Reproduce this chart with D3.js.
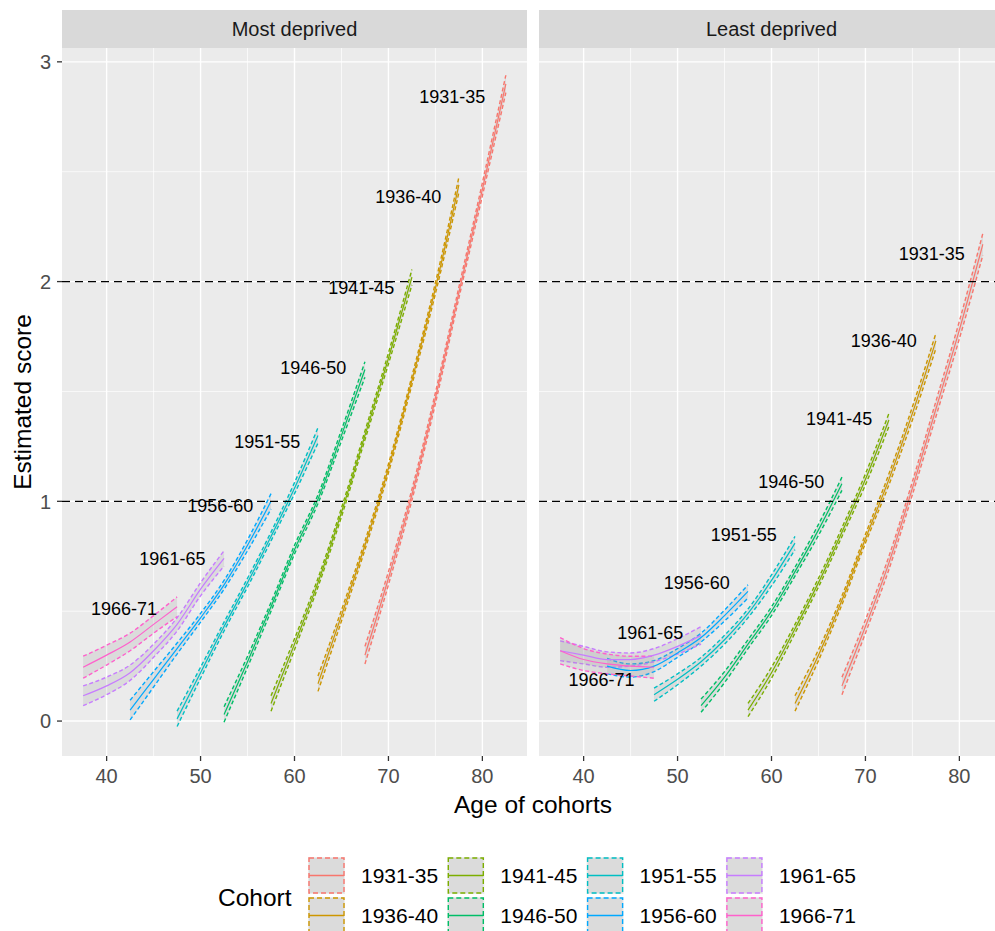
<!DOCTYPE html>
<html>
<head>
<meta charset="utf-8">
<script src="https://cdn.jsdelivr.net/npm/d3@7"></script>
<style>
  html, body { margin: 0; padding: 0; background: #ffffff; }
  svg { display: block; font-family: "Liberation Sans", Arial, sans-serif; }
</style>
</head>
<body>
<svg id="chart" width="995" height="931"></svg>
<script>
// ---------------- data ----------------
const panels = ["Most deprived", "Least deprived"];
const cohorts = ["1931-35", "1936-40", "1941-45", "1946-50", "1951-55", "1956-60", "1961-65", "1966-71"];
const colors = ["#F8766D", "#CD9600", "#7CAE00", "#00BE67", "#00BFC4", "#00A9FF", "#C77CFF", "#FF61CC"];

const ages = [
  [67.5, 70, 72.5, 75, 77.5, 80, 82.5],
  [62.5, 65, 67.5, 70, 72.5, 75, 77.5],
  [57.5, 60, 62.5, 65, 67.5, 70, 72.5],
  [52.5, 55, 57.5, 60, 62.5, 65, 67.5],
  [47.5, 50, 52.5, 55, 57.5, 60, 62.5],
  [42.5, 45, 47.5, 50, 52.5, 55, 57.5],
  [37.5, 40, 42.5, 45, 47.5, 50, 52.5],
  [37.5, 40, 42.5, 45, 47.5]
];

// Most deprived: estimates and CI half-widths
const mostEst = [
  [0.30, 0.65, 1.03, 1.47, 1.95, 2.42, 2.90],
  [0.17, 0.48, 0.80, 1.15, 1.55, 1.97, 2.44],
  [0.08, 0.35, 0.63, 0.95, 1.30, 1.65, 2.02],
  [0.03, 0.27, 0.52, 0.78, 1.01, 1.30, 1.60],
  [0.01, 0.22, 0.43, 0.63, 0.84, 1.06, 1.30],
  [0.05, 0.19, 0.33, 0.47, 0.62, 0.80, 1.00],
  [0.115, 0.16, 0.22, 0.32, 0.44, 0.60, 0.74],
  [0.245, 0.30, 0.36, 0.44, 0.52]
];
const mostCI = [
  [0.04, 0.03, 0.025, 0.025, 0.025, 0.03, 0.04],
  [0.035, 0.025, 0.02, 0.02, 0.02, 0.025, 0.035],
  [0.035, 0.025, 0.02, 0.02, 0.02, 0.025, 0.035],
  [0.035, 0.025, 0.02, 0.02, 0.02, 0.025, 0.035],
  [0.035, 0.025, 0.02, 0.02, 0.02, 0.025, 0.035],
  [0.045, 0.035, 0.025, 0.02, 0.02, 0.025, 0.035],
  [0.045, 0.04, 0.035, 0.03, 0.03, 0.03, 0.035],
  [0.05, 0.045, 0.04, 0.04, 0.045]
];

// Least deprived: estimates and CI half-widths
const leastEst = [
  [0.16, 0.43, 0.72, 1.06, 1.42, 1.78, 2.17],
  [0.08, 0.30, 0.55, 0.83, 1.10, 1.40, 1.73],
  [0.05, 0.22, 0.42, 0.63, 0.86, 1.10, 1.37],
  [0.07, 0.20, 0.35, 0.50, 0.68, 0.87, 1.08],
  [0.12, 0.19, 0.27, 0.37, 0.49, 0.64, 0.81],
  [0.25, 0.23, 0.25, 0.31, 0.38, 0.48, 0.59],
  [0.32, 0.30, 0.28, 0.28, 0.30, 0.34, 0.39],
  [0.32, 0.28, 0.26, 0.25, 0.245]
];
const leastCI = [
  [0.04, 0.03, 0.03, 0.03, 0.035, 0.04, 0.05],
  [0.035, 0.025, 0.02, 0.02, 0.025, 0.03, 0.035],
  [0.03, 0.025, 0.02, 0.02, 0.02, 0.025, 0.03],
  [0.03, 0.025, 0.02, 0.02, 0.02, 0.025, 0.03],
  [0.03, 0.025, 0.02, 0.02, 0.02, 0.025, 0.03],
  [0.035, 0.03, 0.025, 0.02, 0.02, 0.025, 0.03],
  [0.045, 0.04, 0.035, 0.03, 0.03, 0.035, 0.04],
  [0.06, 0.05, 0.045, 0.045, 0.05]
];

// text labels (age, score)
const mostLabelX = [76.8, 72.1, 67.1, 62.0, 57.1, 52.1, 47.0, 41.85];
const mostLabelY = [2.84, 2.385, 1.975, 1.61, 1.27, 0.98, 0.74, 0.51];
const leastLabelX = [77.05, 71.95, 67.2, 62.1, 57.05, 52.05, 47.1, 41.9];
const leastLabelY = [2.126, 1.73, 1.375, 1.09, 0.85, 0.63, 0.405, 0.187];

const xTicks = [40, 50, 60, 70, 80];
const xMinor = [35, 45, 55, 65, 75, 85];
const yTicks = [0, 1, 2, 3];
const yMinor = [0.5, 1.5, 2.5];
const refLines = [1, 2];

// ---------------- layout ----------------
const svg = d3.select("#chart");
const panelTop = 48, panelBottom = 756, stripTop = 10;
const panelLefts = [62, 539];
const panelW = 465;

const y = d3.scaleLinear().domain([-0.159, 3.063]).range([panelBottom, panelTop]);

const panelData = [
  { est: mostEst, ci: mostCI, lx: mostLabelX, ly: mostLabelY },
  { est: leastEst, ci: leastCI, lx: leastLabelX, ly: leastLabelY }
];

const defs = svg.append("defs");

panels.forEach((pname, pi) => {
  const x0 = panelLefts[pi];
  const x = d3.scaleLinear().domain([35.25, 84.75]).range([x0, x0 + panelW]);
  const g = svg.append("g");

  // strip
  g.append("rect").attr("x", x0).attr("y", stripTop).attr("width", panelW)
    .attr("height", panelTop - stripTop).attr("fill", "#D9D9D9");
  g.append("text").attr("x", x0 + panelW / 2).attr("y", (stripTop + panelTop) / 2)
    .attr("dy", "0.35em").attr("text-anchor", "middle")
    .attr("font-size", 20).attr("fill", "#1A1A1A").text(pname);

  // panel bg
  g.append("rect").attr("x", x0).attr("y", panelTop).attr("width", panelW)
    .attr("height", panelBottom - panelTop).attr("fill", "#EBEBEB");

  const clipId = "clip" + pi;
  defs.append("clipPath").attr("id", clipId).append("rect")
    .attr("x", x0).attr("y", panelTop).attr("width", panelW).attr("height", panelBottom - panelTop);
  const pg = g.append("g").attr("clip-path", `url(#${clipId})`);

  // grid
  pg.selectAll(".xminor").data(xMinor).join("line")
    .attr("x1", d => x(d)).attr("x2", d => x(d)).attr("y1", panelTop).attr("y2", panelBottom)
    .attr("stroke", "#fff").attr("stroke-width", 0.7);
  pg.selectAll(".yminor").data(yMinor).join("line")
    .attr("x1", x0).attr("x2", x0 + panelW).attr("y1", d => y(d)).attr("y2", d => y(d))
    .attr("stroke", "#fff").attr("stroke-width", 0.7);
  pg.selectAll(".xmajor").data(xTicks).join("line")
    .attr("x1", d => x(d)).attr("x2", d => x(d)).attr("y1", panelTop).attr("y2", panelBottom)
    .attr("stroke", "#fff").attr("stroke-width", 1.4);
  pg.selectAll(".ymajor").data(yTicks).join("line")
    .attr("x1", x0).attr("x2", x0 + panelW).attr("y1", d => y(d)).attr("y2", d => y(d))
    .attr("stroke", "#fff").attr("stroke-width", 1.4);

  const pd = panelData[pi];
  const series = cohorts.map((c, ci) => ages[ci].map((a, k) => ({
    age: a, est: pd.est[ci][k], lo: pd.est[ci][k] - pd.ci[ci][k], hi: pd.est[ci][k] + pd.ci[ci][k]
  })));

  const area = d3.area().x(d => x(d.age)).y0(d => y(d.lo)).y1(d => y(d.hi)).curve(d3.curveMonotoneX);
  const loLine = d3.line().x(d => x(d.age)).y(d => y(d.lo)).curve(d3.curveMonotoneX);
  const hiLine = d3.line().x(d => x(d.age)).y(d => y(d.hi)).curve(d3.curveMonotoneX);
  const midLine = d3.line().x(d => x(d.age)).y(d => y(d.est)).curve(d3.curveMonotoneX);

  // ribbons with dashed outlines
  series.forEach((s, ci) => {
    pg.append("path").attr("d", area(s)).attr("fill", "#999").attr("fill-opacity", 0.2);
    pg.append("path").attr("d", loLine(s)).attr("fill", "none").attr("stroke", colors[ci])
      .attr("stroke-width", 1.4).attr("stroke-dasharray", "4,2.5");
    pg.append("path").attr("d", hiLine(s)).attr("fill", "none").attr("stroke", colors[ci])
      .attr("stroke-width", 1.4).attr("stroke-dasharray", "4,2.5");
  });
  series.forEach((s, ci) => {
    pg.append("path").attr("d", midLine(s)).attr("fill", "none").attr("stroke", colors[ci])
      .attr("stroke-width", 1.2);
  });

  // reference lines
  pg.selectAll(".ref").data(refLines).join("line")
    .attr("x1", x0).attr("x2", x0 + panelW).attr("y1", d => y(d)).attr("y2", d => y(d))
    .attr("stroke", "#000").attr("stroke-width", 1.3).attr("stroke-dasharray", "8,5");

  // labels
  pg.selectAll(".lab").data(cohorts).join("text")
    .attr("x", (d, i) => x(pd.lx[i])).attr("y", (d, i) => y(pd.ly[i]))
    .attr("dy", "0.36em").attr("text-anchor", "middle").attr("font-size", 18)
    .attr("fill", "#000").text(d => d);

  // x axis ticks
  g.selectAll(".xt").data(xTicks).join("line")
    .attr("x1", d => x(d)).attr("x2", d => x(d)).attr("y1", panelBottom).attr("y2", panelBottom + 5)
    .attr("stroke", "#333").attr("stroke-width", 1.3);
  g.selectAll(".xtl").data(xTicks).join("text")
    .attr("x", d => x(d)).attr("y", panelBottom + 27).attr("text-anchor", "middle")
    .attr("font-size", 20).attr("fill", "#4D4D4D").text(d => d);

  if (pi === 0) {
    g.selectAll(".yt").data(yTicks).join("line")
      .attr("x1", x0 - 5).attr("x2", x0).attr("y1", d => y(d)).attr("y2", d => y(d))
      .attr("stroke", "#333").attr("stroke-width", 1.3);
    g.selectAll(".ytl").data(yTicks).join("text")
      .attr("x", x0 - 11).attr("y", d => y(d)).attr("dy", "0.36em").attr("text-anchor", "end")
      .attr("font-size", 20).attr("fill", "#4D4D4D").text(d => d);
  }
});

// axis titles
svg.append("text").attr("x", (panelLefts[0] + panelLefts[1] + panelW) / 2).attr("y", 813)
  .attr("text-anchor", "middle").attr("font-size", 24.5).attr("fill", "#000").text("Age of cohorts");
svg.append("text").attr("transform", `translate(31,${(panelTop + panelBottom) / 2}) rotate(-90)`)
  .attr("text-anchor", "middle").attr("font-size", 24.5).attr("fill", "#000").text("Estimated score");

// legend
const leg = svg.append("g");
leg.append("text").attr("x", 218).attr("y", 897).attr("dy", "0.36em")
  .attr("font-size", 24.5).attr("fill", "#000").text("Cohort");
const keySize = 37, colX0 = 308, colStep = 139.3, rowY0 = 857, rowStep = 40;
cohorts.forEach((c, i) => {
  const col = Math.floor(i / 2), row = i % 2;
  const kx = colX0 + col * colStep, ky = rowY0 + row * rowStep;
  leg.append("rect").attr("x", kx).attr("y", ky).attr("width", keySize).attr("height", keySize)
    .attr("fill", "#EBEBEB");
  leg.append("rect").attr("x", kx + 1).attr("y", ky + 1).attr("width", keySize - 2).attr("height", keySize - 2)
    .attr("fill", "#999").attr("fill-opacity", 0.2)
    .attr("stroke", colors[i]).attr("stroke-width", 1.4).attr("stroke-dasharray", "5,3");
  leg.append("line").attr("x1", kx + 1).attr("x2", kx + keySize - 1)
    .attr("y1", ky + keySize / 2).attr("y2", ky + keySize / 2)
    .attr("stroke", colors[i]).attr("stroke-width", 1.4);
  leg.append("text").attr("x", kx + keySize + 16).attr("y", ky + keySize / 2).attr("dy", "0.36em")
    .attr("font-size", 21).attr("fill", "#000").text(c);
});
</script>
</body>
</html>
